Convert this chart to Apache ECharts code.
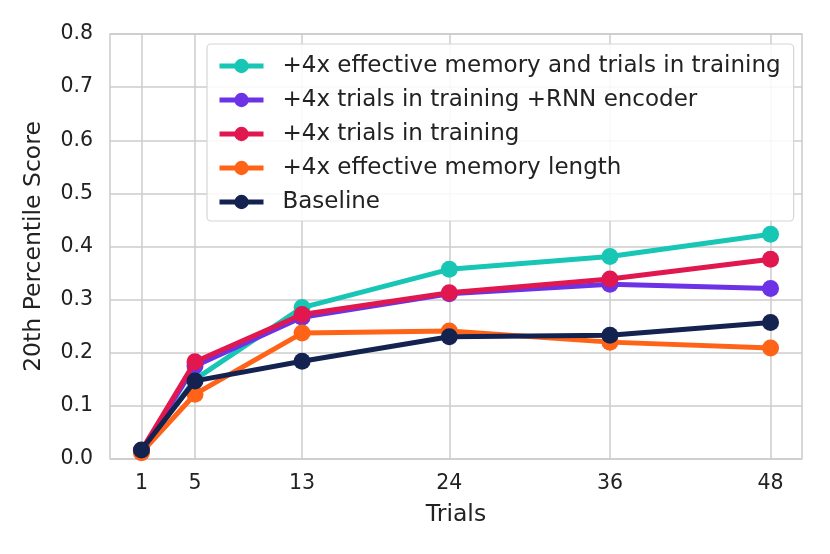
<!DOCTYPE html>
<html>
<head>
<meta charset="utf-8">
<script src="https://cdn.jsdelivr.net/npm/echarts@6/dist/echarts.min.js"></script>
<style>
html, body { margin: 0; padding: 0; background: #fff; }
#main { width: 830px; height: 554px; }
</style>
</head>
<body>
<div id="main"></div>
<script>
// trials on the x axis
var trials = [1, 5, 13, 24, 36, 48];
var yTicks = [0, 0.1, 0.2, 0.3, 0.4, 0.5, 0.6, 0.7, 0.8];

var names = [
	'+4x effective memory and trials in training',
	'+4x trials in training +RNN encoder',
	'+4x trials in training',
	'+4x effective memory length',
	'Baseline'
];
var colors = ['#17c6b4', '#6c33e6', '#e1174f', '#ff6318', '#142250'];

var memTrials = [0.015, 0.150, 0.285, 0.357, 0.381, 0.423];
var trialsRnn = [0.015, 0.175, 0.267, 0.311, 0.329, 0.321];
var trialsOnly = [0.016, 0.183, 0.272, 0.313, 0.339, 0.376];
var memLength = [0.012, 0.122, 0.237, 0.241, 0.220, 0.209];
var baseline = [0.017, 0.147, 0.184, 0.230, 0.233, 0.257];

var values = [memTrials, trialsRnn, trialsOnly, memLength, baseline];

var font = 'DejaVu Sans';

function pairs(arr) {
	return trials.map(function (t, i) { return [t, arr[i]]; });
}

var series = names.map(function (n, i) {
	return {
		name : n,
		type : 'line',
		data : pairs(values[i]),
		symbol : 'circle',
		symbolSize : 17,
		lineStyle : { width : 5, color : colors[i] },
		itemStyle : { color : colors[i] },
		z : 2 + i
	};
});

var e = document.getElementById('main');
var myChart = echarts.init(e);
myChart.setOption({
	animation : false,
	backgroundColor : '#fff',
	textStyle : { fontFamily : font },
	grid : {
		left : 110, right : 28, top : 34, bottom : 95,
		show : true, borderColor : '#cccccc', borderWidth : 1.5,
		containLabel : false
	},
	legend : {
		data : names,
		orient : 'vertical',
		left : 207, top : 44,
		padding : [10, 13, 7, 10],
		itemWidth : 44, itemHeight : 18,
		itemGap : 10,
		lineStyle : { width : 5 },
		backgroundColor : 'rgba(255,255,255,0.85)',
		borderColor : '#d6d6d6', borderWidth : 1.2, borderRadius : 4,
		textStyle : { fontSize : 23, color : '#222', fontFamily : font, padding : [0, 0, 0, 14], lineHeight : 24 }
	},
	xAxis : {
		type : 'value',
		min : -1.35, max : 50.35,
		name : 'Trials',
		nameLocation : 'middle',
		nameGap : 44,
		nameTextStyle : { fontSize : 23.5, color : '#222', fontFamily : font },
		axisLine : { show : false },
		axisTick : { show : false, customValues : trials },
		axisLabel : { customValues : trials, fontSize : 20.5, color : '#222', margin : 14, fontFamily : font },
		splitLine : { show : true, lineStyle : { color : '#cccccc', width : 1.5 } }
	},
	yAxis : {
		type : 'value',
		min : 0, max : 0.8, interval : 0.1,
		name : '20th Percentile Score',
		nameLocation : 'middle',
		nameGap : 64,
		nameTextStyle : { fontSize : 23.5, color : '#222', fontFamily : font },
		axisLine : { show : false },
		axisTick : { show : false },
		axisLabel : {
			fontSize : 20.5, color : '#222', margin : 17, fontFamily : font,
			formatter : function (v) { return v.toFixed(1); }
		},
		splitLine : { show : true, lineStyle : { color : '#cccccc', width : 1.5 } }
	},
	series : series
});
</script>
</body>
</html>
